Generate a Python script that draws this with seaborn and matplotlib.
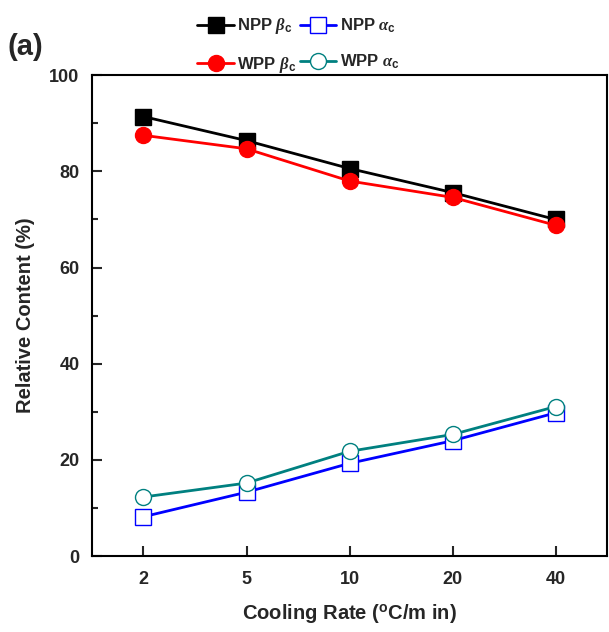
import matplotlib
matplotlib.use("Agg")
import matplotlib.pyplot as plt
from matplotlib.ticker import MultipleLocator
import seaborn as sns
import pandas as pd

rates = ["2", "5", "10", "20", "40"]
npp_beta = [91.4, 86.4, 80.6, 75.6, 70.0]
wpp_beta = [87.5, 84.7, 78.0, 74.6, 68.8]
npp_alpha = [8.2, 13.3, 19.3, 24.0, 29.8]
wpp_alpha = [12.3, 15.2, 21.8, 25.3, 31.1]

sns.set_style("ticks")
plt.rcParams['font.family'] = ['Liberation Sans', 'DejaVu Sans']
plt.rcParams['mathtext.fontset'] = 'custom'
plt.rcParams['mathtext.it'] = 'Liberation Serif:italic:bold'
plt.rcParams['mathtext.rm'] = 'Liberation Sans:bold'

fig = plt.figure(figsize=(6.09, 6.32), dpi=100)
ax = fig.add_axes([0.151, 0.120, 0.846, 0.761])

series = [
    ("NPP $\\beta_{\\rm c}$", npp_beta, "black", "s", "black"),
    ("NPP $\\alpha_{\\rm c}$", npp_alpha, "#0000ff", "s", "white"),
    ("WPP $\\beta_{\\rm c}$", wpp_beta, "#ff0000", "o", "#ff0000"),
    ("WPP $\\alpha_{\\rm c}$", wpp_alpha, "#008080", "o", "white"),
]
for label, vals, color, marker, mfc in series:
    df = pd.DataFrame({"rate": rates, "val": vals})
    sns.lineplot(data=df, x="rate", y="val", ax=ax, color=color, linewidth=2,
                 marker=marker, markersize=11.5 if marker == "o" else 11,
                 markerfacecolor=mfc, markeredgecolor=color, markeredgewidth=1.0,
                 label=label, sort=False)

ax.get_legend().remove()
h, l = ax.get_legend_handles_labels()
order = [0, 2, 1, 3]
fig.legend([h[i] for i in order], [l[i] for i in order], ncol=2, loc="center",
           bbox_to_anchor=(0.49, 0.928), frameon=False, handlelength=2.2,
           columnspacing=0.2, handletextpad=0.2, labelspacing=1.1,
           prop={"weight": "bold", "size": 12})

ax.set_xlim(-0.5, 4.5)
ax.set_ylim(0, 100)
ax.set_yticks([0, 20, 40, 60, 80, 100])
ax.yaxis.set_minor_locator(MultipleLocator(10))
for s in ax.spines.values():
    s.set_linewidth(1.5)
    s.set_color("black")
ax.tick_params(which="major", direction="in", length=7, width=1.5, labelsize=13, top=False, right=False)
ax.tick_params(which="minor", direction="in", length=4, width=1.5, top=False, right=False)
for t in ax.get_xticklabels() + ax.get_yticklabels():
    t.set_fontweight("bold")
ax.tick_params(axis="x", pad=11)
ax.tick_params(axis="y", pad=9)
ax.set_xlabel("Cooling Rate ($^{\\rm o}$C/m in)", fontsize=14.5, fontweight="bold", labelpad=10)
ax.set_ylabel("Relative Content (%)", fontsize=14.5, fontweight="bold", labelpad=10)
fig.text(0.012, 0.925, "(a)", fontsize=21, fontweight="bold", va="center")

fig.savefig("out.png", dpi=100)
